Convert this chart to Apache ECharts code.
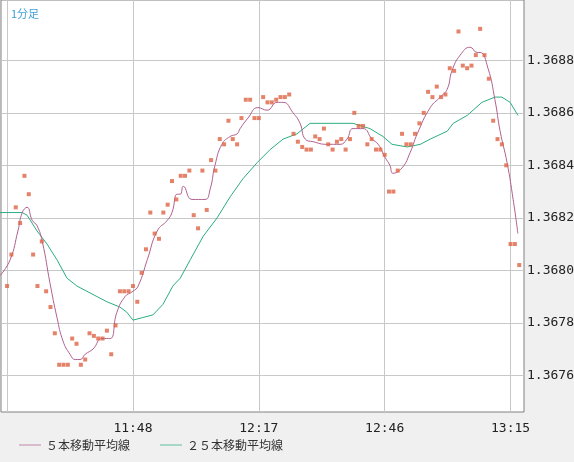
<!DOCTYPE html>
<html>
<head>
<meta charset="utf-8">
<script src="https://cdn.jsdelivr.net/npm/echarts@6/dist/echarts.min.js"></script>
<style>
html, body { margin: 0; padding: 0; background: #f0f0f0; }
#chartDiv { width: 574px; height: 462px; }
</style>
</head>
<body>
<div id="chartDiv"></div>
<script>
// 1分足 11:19 からの分数
var startMinute = 11 * 60 + 19;
var priceValues = [
    1.36794, 1.36806, 1.36824, 1.36818, 1.36836, 1.36829, 1.36806, 1.36794, 1.36811, 1.36792,
    1.36786, 1.36776, 1.36764, 1.36764, 1.36764, 1.36774, 1.36772, 1.36764, 1.36766, 1.36776,
    1.36775, 1.36774, 1.36774, 1.36777, 1.36768, 1.36779, 1.36792, 1.36792, 1.36792, 1.36794,
    1.36788, 1.36799, 1.36808, 1.36822, 1.36814, 1.36812, 1.36822, 1.36825, 1.36834, 1.36827,
    1.36836, 1.36836, 1.36838, 1.36821, 1.36816, 1.36838, 1.36823, 1.36842, 1.36838, 1.36850,
    1.36848, 1.36857, 1.36850, 1.36848, 1.36858, 1.36865, 1.36865, 1.36858, 1.36858, 1.36866,
    1.36864, 1.36864, 1.36865, 1.36866, 1.36866, 1.36867, 1.36852, 1.36849, 1.36847, 1.36846,
    1.36846, 1.36851, 1.36850, 1.36854, 1.36848, 1.36846, 1.36849, 1.36850, 1.36846, 1.36850,
    1.36860, 1.36855, 1.36855, 1.36848, 1.36850, 1.36846, 1.36846, 1.36844, 1.36830, 1.36830,
    1.36838, 1.36852, 1.36848, 1.36848, 1.36852, 1.36856, 1.36860, 1.36868, 1.36866, 1.36870,
    1.36866, 1.36867, 1.36877, 1.36876, 1.36891, 1.36878, 1.36877, 1.36878, 1.36882, 1.36892,
    1.36882, 1.36873, 1.36857, 1.36850, 1.36848, 1.36840, 1.36810, 1.36810, 1.36802
];
var ma5Times = [-1.6, 0.7, 2.5, 3.5, 4.6, 5.8, 6.9, 8.1, 9.9, 11.5, 12.9, 14.5, 15.7, 16.8, 18, 19.8,
    21.9, 23.7, 25.3, 27.2, 29, 30.2, 32.3, 34.6, 36.9, 38, 39.2, 39.9, 40.6, 42.6, 45.6, 46.8, 47.9,
    49.5, 51.4, 53, 53.7, 55.5, 57.8, 59.9, 62.2, 63.6, 65.9, 67.5, 68.7, 70.5, 73.7, 76.7, 78.3, 79.7,
    82, 84.1, 85.5, 87.1, 88.2, 88.9, 91, 92.9, 94.5, 97.5, 99.8, 101.4, 102.5, 104.4, 106.7, 108.3,
    109, 110.8, 112.4, 113.6, 115.2, 116.6, 117.7];
var ma5Values = [1.36798, 1.36804, 1.36815, 1.36822, 1.36824, 1.36819, 1.36817, 1.36811, 1.36795,
    1.36782, 1.36773, 1.36768, 1.36766, 1.36766, 1.36768, 1.36770, 1.36774, 1.36774, 1.36784, 1.36790,
    1.36792, 1.36794, 1.36804, 1.36815, 1.36819, 1.36822, 1.36829, 1.36829, 1.36832, 1.36827, 1.36827,
    1.36831, 1.36840, 1.36848, 1.36851, 1.36852, 1.36854, 1.36858, 1.36862, 1.36861, 1.36864, 1.36864,
    1.36860, 1.36856, 1.36850, 1.36849, 1.36848, 1.36848, 1.36850, 1.36854, 1.36854, 1.36850, 1.36848,
    1.36843, 1.36840, 1.36837, 1.36839, 1.36845, 1.36852, 1.36862, 1.36866, 1.36869, 1.36876, 1.36882,
    1.36885, 1.36883, 1.36883, 1.36877, 1.36865, 1.36853, 1.36841, 1.36827, 1.36814];
var ma25Times = [-1.6, 3.5, 4.6, 6.9, 9.2, 11.5, 13.8, 16.1, 18.4, 20.7, 23, 26, 27.6, 29, 31.3, 33.6,
    35.9, 38.2, 39.9, 42.2, 45.2, 48.4, 51.4, 54.4, 57.6, 60.6, 63.6, 66.8, 69.8, 72.1, 76, 79.7, 83.6,
    86.6, 88.7, 92.2, 95.2, 97.5, 101.4, 102.8, 106, 109.4, 112.4, 114, 115.9, 117.7];
var ma25Values = [1.36822, 1.36822, 1.36821, 1.36815, 1.36810, 1.36804, 1.36797, 1.36794, 1.36792,
    1.36790, 1.36788, 1.36786, 1.36784, 1.36781, 1.36782, 1.36783, 1.36787, 1.36794, 1.36797, 1.36804,
    1.36813, 1.36820, 1.36828, 1.36835, 1.36841, 1.36846, 1.36850, 1.36852, 1.36856, 1.36856, 1.36856,
    1.36856, 1.36854, 1.36851, 1.36848, 1.36847, 1.36848, 1.36850, 1.36853, 1.36856, 1.36859, 1.36864,
    1.36866, 1.36866, 1.36864, 1.36859];
var xTicks = [29, 58, 87, 116];
var yTicks = [1.3676, 1.3678, 1.3680, 1.3682, 1.3684, 1.3686, 1.3688];

var xMin = -1.4, xMax = 119.1, yMin = 1.36746, yMax = 1.36903;

function toClock(m) {
    var t = startMinute + Math.round(m);
    var h = Math.floor(t / 60), mm = t % 60;
    return h + ':' + (mm < 10 ? '0' : '') + mm;
}
function pairs(xs, ys) {
    var out = [];
    for (var i = 0; i < xs.length; i++) out.push([xs[i], ys[i]]);
    return out;
}

var gridLines = [];
xTicks.concat([0]).forEach(function (v) {
    gridLines.push([{ coord: [v, yMin] }, { coord: [v, yMax] }]);
});
yTicks.forEach(function (v) {
    gridLines.push([{ coord: [xMin, v] }, { coord: [xMax, v] }]);
});

var monoFont = 'DejaVu Sans Mono';
var lineIcon = 'path://M0,0L30,0L30,1L0,1Z';
var option = {
    backgroundColor: '#f0f0f0',
    animation: false,
    grid: {
        left: 1, right: 50, top: 0, bottom: 50, outerBoundsMode: 'none', containLabel: false,
        show: true, backgroundColor: '#fff', borderColor: '#808080', borderWidth: 1
    },
    title: {
        text: '1分足', left: 6, top: 3,
        textStyle: { color: '#3fa0d8', fontSize: 11, fontWeight: 'normal', fontFamily: 'Noto Sans CJK JP' }
    },
    legend: {
        left: 14, bottom: 6, itemWidth: 22, itemHeight: 1, itemGap: 30,
        textStyle: { color: '#333', fontSize: 12, fontFamily: 'Noto Sans CJK JP' },
        data: [{ name: '５本移動平均線', icon: lineIcon }, { name: '２５本移動平均線', icon: lineIcon }]
    },
    xAxis: {
        type: 'value', min: xMin, max: xMax,
        splitLine: { show: false },
        axisLine: { show: false }, axisTick: { show: false },
        axisLabel: {
            customValues: xTicks, color: '#222', fontSize: 13, fontFamily: monoFont,
            margin: 10, formatter: function (v) { return toClock(v); }
        }
    },
    yAxis: {
        type: 'value', position: 'right', min: yMin, max: yMax,
        splitLine: { show: false },
        axisLine: { show: false }, axisTick: { show: false },
        axisLabel: {
            customValues: yTicks, color: '#222', fontSize: 13, fontFamily: monoFont,
            margin: 3, formatter: function (v) { return v.toFixed(4); }
        }
    },
    series: [
        {
            name: '２５本移動平均線', type: 'line', symbol: 'none', smooth: false,
            lineStyle: { color: '#2aae7e', width: 1 }, itemStyle: { color: '#2aae7e' },
            data: pairs(ma25Times, ma25Values)
        },
        {
            name: '５本移動平均線', type: 'line', symbol: 'none', smooth: true,
            lineStyle: { color: '#b0608e', width: 1 }, itemStyle: { color: '#b0608e' },
            data: pairs(ma5Times, ma5Values)
        },
        {
            name: 'price', type: 'scatter', symbol: 'rect', symbolSize: 4, z: 3,
            itemStyle: { color: '#de6445' },
            data: priceValues.map(function (v, i) { return [i, v]; }),
            markLine: {
                silent: true, symbol: 'none', label: { show: false }, z: 1,
                lineStyle: { color: '#c8c8c8', type: 'solid', width: 1 },
                emphasis: { disabled: true },
                data: gridLines
            }
        }
    ]
};
var myChart = echarts.init(document.getElementById('chartDiv'));
myChart.setOption(option);
</script>
</body>
</html>
